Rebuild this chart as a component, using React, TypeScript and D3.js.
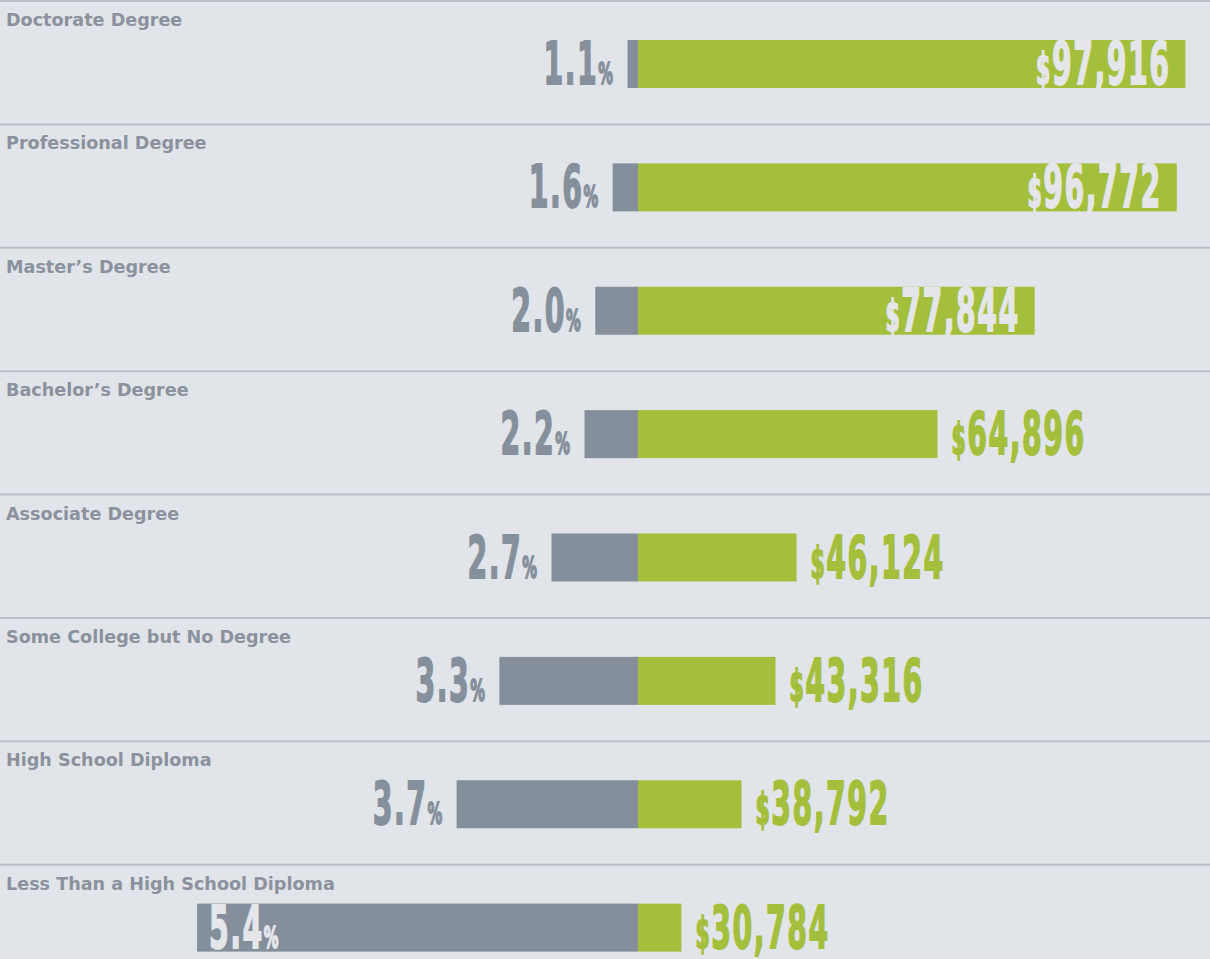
import * as d3 from "d3";

const categories = [
  "Doctorate Degree",
  "Professional Degree",
  "Master’s Degree",
  "Bachelor’s Degree",
  "Associate Degree",
  "Some College but No Degree",
  "High School Diploma",
  "Less Than a High School Diploma",
];
// unemployment rate (%)
const unemployment = [1.1, 1.6, 2.0, 2.2, 2.7, 3.3, 3.7, 5.4];
// median annual earnings ($)
const earnings = [97916, 96772, 77844, 64896, 46124, 43316, 38792, 30784];

const W = 1210;
const H = 959;
const axisX = 638;
const BG = "#e1e4e9";
const GREEN = "#a4bf3b";
const GRAY = "#858f9c";
const LIGHT = "#e4e6ea";
const NUM_SIZE = 58;
const SX = 0.49;

function App() {
  const y = d3
    .scaleBand<string>()
    .domain(categories)
    .range([1, 988])
    .paddingInner(0)
    .paddingOuter(0);

  // the infographic exaggerates widths, a pow scale gets close to it
  const xLeft = d3.scalePow().exponent(2.35).domain([0, 5.4]).range([0, 441]);
  const xRight = d3.scaleLinear().domain([25000, 98000]).range([0, 548]);

  const fmtMoney = d3.format(",");
  const fmtPct = d3.format(".1f");

  return (
    <svg
      width={W}
      height={H}
      style={{ position: "absolute", left: 0, top: 0, display: "block" }}
    >
      <rect x={0} y={0} width={W} height={H} fill={BG} />
      {categories.map((c, i) => {
        const top = y(c)!;
        const barY = top + 39;
        const barH = 48;
        const base = barY + 44;
        const gw = xLeft(unemployment[i]);
        const rw = xRight(earnings[i]);
        const pctInside = gw > 300;
        const moneyInside = rw > 380;
        const pctX = pctInside ? axisX - gw + 12 : axisX - gw - 13;
        const moneyX = moneyInside ? axisX + rw - 15 : axisX + rw + 14;
        const pctFill = pctInside ? LIGHT : "#86909c";
        const moneyFill = moneyInside ? LIGHT : GREEN;
        return (
          <g key={c}>
            <line
              x1={0}
              x2={W}
              y1={top}
              y2={top}
              stroke="#b9bfc8"
              strokeWidth={2}
            />
            <text
              x={6}
              y={top + 25}
              fontFamily="DejaVu Sans, sans-serif"
              fontWeight="bold"
              fontSize={17.6}
              fill="#8b929d"
            >
              {c}
            </text>
            <rect x={axisX - gw} y={barY} width={gw} height={barH} fill={GRAY} />
            <rect x={axisX} y={barY} width={rw} height={barH} fill={GREEN} />
            <g transform={`translate(${pctX},${base}) scale(${SX},1)`}>
              <text
                x={0}
                y={0}
                textAnchor={pctInside ? "start" : "end"}
                fontFamily="DejaVu Sans, sans-serif"
                fontWeight="bold"
                fontSize={NUM_SIZE}
                letterSpacing={3}
                fill={pctFill}
                stroke={pctFill}
                strokeWidth={1.8}
              >
                {fmtPct(unemployment[i])}
                <tspan fontSize={30}>%</tspan>
              </text>
            </g>
            <g transform={`translate(${moneyX},${base}) scale(${SX},1)`}>
              <text
                x={0}
                y={0}
                textAnchor={moneyInside ? "end" : "start"}
                fontFamily="DejaVu Sans, sans-serif"
                fontWeight="bold"
                fontSize={NUM_SIZE}
                letterSpacing={3}
                fill={moneyFill}
                stroke={moneyFill}
                strokeWidth={1.8}
              >
                <tspan fontSize={42}>$</tspan>
                {fmtMoney(earnings[i])}
              </text>
            </g>
          </g>
        );
      })}
    </svg>
  );
}

export default App;
